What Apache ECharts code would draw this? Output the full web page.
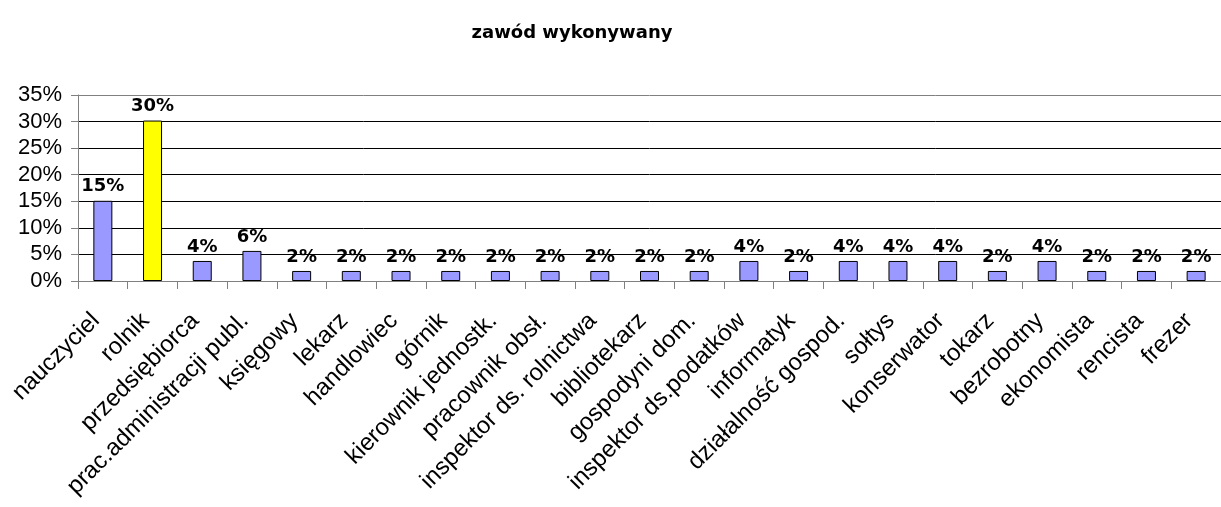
<!DOCTYPE html>
<html>
<head>
<meta charset="utf-8">
<script src="https://cdn.jsdelivr.net/npm/echarts@6/dist/echarts.min.js"></script>
<style>html,body{margin:0;padding:0;background:#fff;}#c{width:1221px;height:507px;}</style>
</head>
<body>
<div id="c"></div>
<script>
const title = 'zawód wykonywany';
const categories = ['nauczyciel','rolnik','przedsiębiorca','prac.administracji publ.','księgowy','lekarz','handlowiec','górnik','kierownik jednostk.','pracownik obsł.','inspektor ds. rolnictwa','bibliotekarz','gospodyni dom.','inspektor ds.podatków','informatyk','działalność gospod.','sołtys','konserwator','tokarz','bezrobotny','ekonomista','rencista','frezer'];
const values = [15.09,30.19,3.77,5.66,1.89,1.89,1.89,1.89,1.89,1.89,1.89,1.89,1.89,3.77,1.89,3.77,3.77,3.77,1.89,3.77,1.89,1.89,1.89];
const highlightIndex = 1;
const yMin = 0, yMax = 35, yStep = 5;

const chart = echarts.init(document.getElementById('c'), null, {renderer:'canvas'});
chart.setOption({
  backgroundColor:'#fff',
  animation:false,
  title:{text:title,left:567,top:19,textAlign:'center',textStyle:{fontFamily:'DejaVu Sans',fontWeight:'bold',fontSize:18,color:'#000'}},
  grid:{left:78,right:-6,top:95,bottom:226,containLabel:false},
  xAxis:{type:'category',data:categories,
    axisLine:{lineStyle:{color:'#808080',width:1}},
    axisTick:{show:true,length:8,lineStyle:{color:'#808080'}},
    axisLabel:{rotate:45,interval:0,margin:29,padding:[0,10,0,0],fontFamily:'Liberation Sans',fontSize:24,color:'#000'}},
  yAxis:{type:'value',min:yMin,max:yMax,interval:yStep,
    axisLine:{show:true,lineStyle:{color:'#808080',width:1}},
    axisTick:{show:true,length:7,lineStyle:{color:'#808080'}},
    axisLabel:{margin:16,fontFamily:'Liberation Sans',fontSize:22,color:'#000',formatter:v=>v+'%'},
    splitLine:{show:true,lineStyle:{color:['#808080','#000','#000','#000','#000','#000','#000','#808080'],width:1}}},
  series:[{type:'bar',barWidth:19,
    data:values.map((v,i)=>({value:v,itemStyle:{color:i===highlightIndex?'#FFFF00':'#9999FF'}})),
    itemStyle:{borderColor:'#000',borderWidth:1},
    label:{show:true,position:'top',distance:5,fontFamily:'DejaVu Sans',fontWeight:'bold',fontSize:18,color:'#000',formatter:p=>Math.round(p.value)+'%'}}]
});
</script>
</body>
</html>
